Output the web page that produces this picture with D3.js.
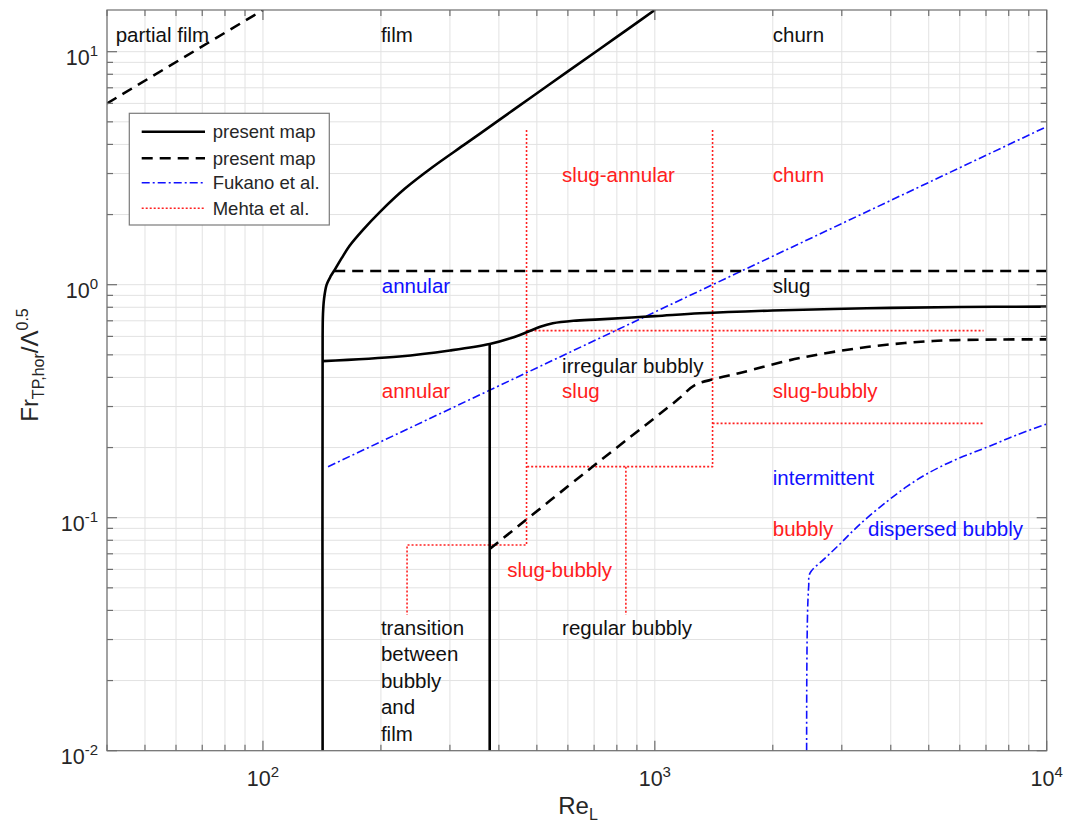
<!DOCTYPE html>
<html>
<head>
<meta charset="utf-8">
<script src="https://cdn.jsdelivr.net/npm/d3@7"></script>
<style>
body{margin:0;background:#fff;}
svg text{font-family:"Liberation Sans",Arial,Helvetica,sans-serif;}
</style>
</head>
<body>
<svg id="chart" width="1067" height="834"></svg>
<script>
// ---------- data (Re_L, Fr_TP,hor / Λ^0.5) ----------
const partialFilmDashed = [[40,6.0],[100,15.1]];
const filmSolid = [[142,0.01],[142,0.60],[142.3,0.75],[143.2,0.87],[145.4,1.0],[149,1.09],[152.4,1.157],[158.8,1.3],[166.4,1.47],[180,1.72],[198.7,2.05],[230,2.58],[271.2,3.2],[330,4.04],[402,5.11],[488,6.44],[600,8.23],[723.5,10.27],[850,12.44],[1000,15.1]];
const slugDashedUpper = [[152,1.145],[10000,1.145]];
const annularSlugSolid = [[142,0.470],[223,0.492],[300,0.522],[379,0.556],[430,0.59],[471,0.625],[510,0.66],[549,0.683],[620,0.700],[723,0.710],[1000,0.733],[1303,0.754],[2000,0.775],[3476,0.792],[6000,0.802],[10000,0.805]];
const transitionSolid = [[379,0.01],[379,0.556]];
const bubblyDashedLower = [[379,0.0734],[723.5,0.1751],[1000,0.2684],[1150,0.3236],[1265,0.371],[1423,0.394],[1648,0.418],[2344,0.4845],[3476,0.540],[5125,0.5733],[7601,0.5817],[10000,0.5826]];
const fukanoLine = [[146.6,0.1656],[10000,4.77]];
const fukanoCurve = [[2440,0.01],[2442,0.02],[2450,0.035],[2459,0.0443],[2470,0.051],[2487,0.0577],[2716,0.0669],[2968,0.0771],[3208,0.088],[3471,0.0994],[3904,0.1171],[4392,0.1359],[4939,0.154],[5776,0.1757],[7028,0.2005],[8384,0.2264],[10000,0.2524]];
const mehtaLines = [
  [[470.6,4.61],[470.6,0.0763],[233.2,0.0763],[233.2,0.0382]],
  [[1404,4.61],[1404,0.1656],[470.6,0.1656]],
  [[843.6,0.1656],[843.6,0.0382]],
  [[470.6,0.635],[6900,0.635]],
  [[1404,0.254],[6900,0.254]]
];
const xTicks = [100,1000,10000];
const xTickExp = ["2","3","4"];
const yTicks = [0.01,0.1,1,10];
const yTickExp = ["-2","-1","0","1"];
const legendLabels = ["present map","present map","Fukano et al.","Mehta et al."];
const regionLabels = [
  {t:"partial film", re:42.1, fr:11.0, c:"black"},
  {t:"film", re:200, fr:11.0, c:"black"},
  {t:"churn", re:2000, fr:11.0, c:"black"},
  {t:"slug-annular", re:580, fr:2.76, c:"red"},
  {t:"churn", re:2000, fr:2.76, c:"red"},
  {t:"annular", re:201, fr:0.918, c:"blue"},
  {t:"slug", re:2000, fr:0.918, c:"black"},
  {t:"irregular bubbly", re:580, fr:0.417, c:"black"},
  {t:"annular", re:201, fr:0.3255, c:"red"},
  {t:"slug", re:580, fr:0.3255, c:"red"},
  {t:"slug-bubbly", re:2000, fr:0.3255, c:"red"},
  {t:"intermittent", re:2000, fr:0.138, c:"blue"},
  {t:"bubbly", re:2000, fr:0.0835, c:"red"},
  {t:"dispersed bubbly", re:3500, fr:0.0835, c:"blue"},
  {t:"slug-bubbly", re:420, fr:0.0558, c:"red"},
  {t:"regular bubbly", re:580, fr:0.0314, c:"black"}
];
const transitionText = ["transition","between","bubbly","and","film"];

// ---------- layout ----------
const svg = d3.select("#chart");
const L=107, R=1046.7, T=10, B=750.7;
const x = d3.scaleLog().domain([40,10000]).range([L,R]);
const y = d3.scaleLog().domain([0.01,15.1]).range([B,T]);
const txtCol = "#262626", axCol="#6e6e6e";
const RED="#ff2020", BLUE="#1010ff";

svg.append("defs").append("clipPath").attr("id","clip")
  .append("rect").attr("x",L).attr("y",T).attr("width",R-L).attr("height",B-T);

// grid
const xMinor=[], yMinor=[];
for (let e=1;e<=4;e++) for (let m=1;m<10;m++){const v=m*Math.pow(10,e); if(v>=40&&v<=10000) xMinor.push(v);}
for (let e=-2;e<=1;e++) for (let m=1;m<10;m++){const v=m*Math.pow(10,e); if(v>=0.01&&v<=15.1) yMinor.push(v);}
const g = svg.append("g");
g.selectAll(".gx").data(xMinor).enter().append("line")
  .attr("x1",d=>x(d)).attr("x2",d=>x(d)).attr("y1",T).attr("y2",B)
  .attr("stroke","#e2e2e2").attr("stroke-width",1);
g.selectAll(".gy").data(yMinor).enter().append("line")
  .attr("y1",d=>y(d)).attr("y2",d=>y(d)).attr("x1",L).attr("x2",R)
  .attr("stroke","#e2e2e2").attr("stroke-width",1);

// lines
const line = d3.line().x(d=>x(d[0])).y(d=>y(d[1]));
const smooth = d3.line().x(d=>x(d[0])).y(d=>y(d[1])).curve(d3.curveCatmullRom.alpha(0.5));
const plot = svg.append("g").attr("clip-path","url(#clip)");
function draw(data,color,w,dash,gen){
  plot.append("path").attr("d",(gen||line)(data)).attr("fill","none")
    .attr("stroke",color).attr("stroke-width",w)
    .attr("stroke-dasharray",dash||null).attr("stroke-linejoin","round");
}
mehtaLines.forEach(d=>draw(d,RED,1.6,"2,2"));
draw(fukanoLine,BLUE,1.6,"8,3,2,3");
draw(fukanoCurve,BLUE,1.6,"8,3,2,3",smooth);
draw(filmSolid,"#000",2.6,null,smooth);
draw(annularSlugSolid,"#000",2.6,null,smooth);
draw(transitionSolid,"#000",2.6);
draw(partialFilmDashed,"#000",2.6,"11,7");
draw(slugDashedUpper,"#000",2.6,"11,7");
draw(bubblyDashedLower,"#000",2.6,"11,7",smooth);

// region labels
const lab = svg.append("g").attr("font-size","20.5px");
regionLabels.forEach(d=>{
  lab.append("text").attr("x",x(d.re)).attr("y",y(d.fr)).attr("fill",d.c==="red"?RED:d.c==="blue"?BLUE:"#111").text(d.t);
});
const tt = lab.append("text").attr("x",x(200)).attr("y",y(0.03138)).attr("fill","#111");
transitionText.forEach((s,i)=>tt.append("tspan").attr("x",x(200)).attr("dy",i===0?0:26.5).text(s));

// axes box
svg.append("rect").attr("x",L).attr("y",T).attr("width",R-L).attr("height",B-T)
  .attr("fill","none").attr("stroke",axCol).attr("stroke-width",1.2);
// ticks (inward on all sides)
const tk = svg.append("g").attr("stroke",axCol).attr("stroke-width",1.2);
xMinor.forEach(v=>{
  const major = xTicks.includes(v); const len = major?10:6;
  tk.append("line").attr("x1",x(v)).attr("x2",x(v)).attr("y1",B).attr("y2",B-len);
  tk.append("line").attr("x1",x(v)).attr("x2",x(v)).attr("y1",T).attr("y2",T+len);
});
yMinor.forEach(v=>{
  const major = yTicks.some(t=>Math.abs(t-v)<1e-9); const len = major?10:6;
  tk.append("line").attr("y1",y(v)).attr("y2",y(v)).attr("x1",L).attr("x2",L+len);
  tk.append("line").attr("y1",y(v)).attr("y2",y(v)).attr("x1",R).attr("x2",R-len);
});

// tick labels
xTicks.forEach((v,i)=>{
  const t = svg.append("text").attr("x",x(v)).attr("y",786).attr("text-anchor","middle")
    .attr("font-size","21.5px").attr("fill",txtCol);
  t.append("tspan").text("10");
  t.append("tspan").attr("font-size","15px").attr("dy",-9).text(xTickExp[i]);
});
yTicks.forEach((v,i)=>{
  const t = svg.append("text").attr("x",98).attr("y",y(v)+13).attr("text-anchor","end")
    .attr("font-size","21.5px").attr("fill",txtCol);
  t.append("tspan").text("10");
  t.append("tspan").attr("font-size","15px").attr("dy",-9).text(yTickExp[i]);
});

// axis titles
const xl = svg.append("text").attr("x",578).attr("y",814).attr("text-anchor","middle")
  .attr("font-size","24px").attr("fill",txtCol);
xl.append("tspan").text("Re");
xl.append("tspan").attr("font-size","16px").attr("dy",6).text("L");

const yl = svg.append("text").attr("transform","translate(38,365) rotate(-90)").attr("text-anchor","middle")
  .attr("font-size","24px").attr("fill",txtCol);
yl.append("tspan").text("Fr");
yl.append("tspan").attr("font-size","16px").attr("dy",6).text("TP,hor");
yl.append("tspan").attr("dy",-6).text("/Λ");
yl.append("tspan").attr("font-size","16px").attr("dy",-10).text("0.5");

// legend
const lg = svg.append("g");
lg.append("rect").attr("x",129.3).attr("y",113.3).attr("width",200).attr("height",111.7)
  .attr("fill","#fff").attr("stroke","#7a7a7a").attr("stroke-width",1.2);
const legStyles = [
  {c:"#000",w:2.6,d:null},{c:"#000",w:2.6,d:"11,7"},{c:BLUE,w:1.6,d:"8,3,2,3"},{c:RED,w:1.6,d:"2,2"}
];
const legY = [131.7,158.3,182.7,208.3];
legendLabels.forEach((s,i)=>{
  lg.append("line").attr("x1",141.7).attr("x2",205).attr("y1",legY[i]).attr("y2",legY[i])
    .attr("stroke",legStyles[i].c).attr("stroke-width",legStyles[i].w).attr("stroke-dasharray",legStyles[i].d);
  lg.append("text").attr("x",212.7).attr("y",legY[i]+6.5).attr("font-size","18.5px").attr("fill",txtCol).text(s);
});
</script>
</body>
</html>
